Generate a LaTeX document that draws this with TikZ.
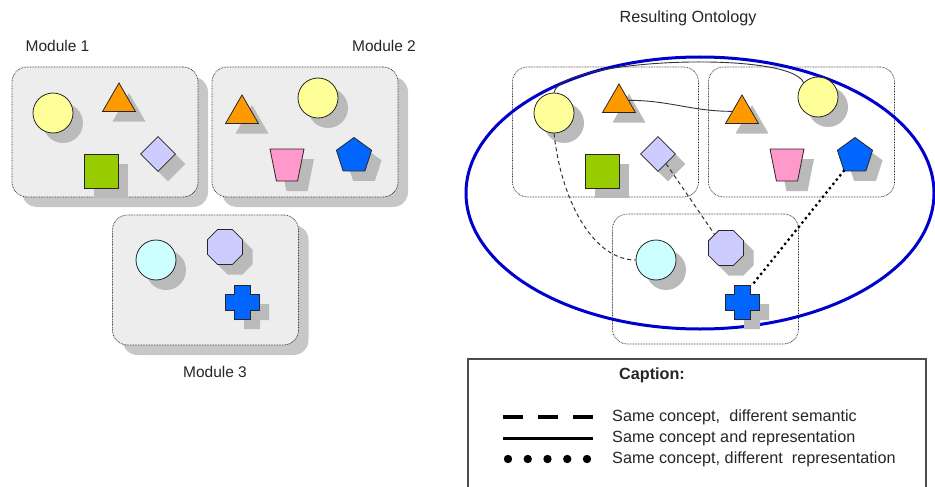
\documentclass[tikz,border=0pt]{standalone}
\usepackage{fontspec}
\setmainfont{Liberation Sans}
\usepackage{tikz}
\usetikzlibrary{shapes.geometric, shadows}

\definecolor{yellowc}{RGB}{255,255,153}
\definecolor{orangec}{RGB}{255,153,0}
\definecolor{greenc}{RGB}{153,204,0}
\definecolor{lilac}{RGB}{204,204,255}
\definecolor{pinkc}{RGB}{255,153,204}
\definecolor{bluec}{RGB}{0,102,255}
\definecolor{cyanc}{RGB}{204,255,255}
\definecolor{ringblue}{RGB}{0,0,204}

\begin{document}
\begin{tikzpicture}[
    x=1pt, y=-1pt,
    font=\fontsize{16.2}{19}\selectfont, text=black!85,
    modlabel/.style={font=\fontsize{15.5}{18}\selectfont},
    modbox/.style={draw=black!80, line width=0.7pt, dash pattern=on 0.8pt off 0.8pt, rounded corners=15pt, minimum width=186, minimum height=130},
    modgrey/.style={modbox, fill=black!7, drop shadow={shadow xshift=10pt, shadow yshift=-10pt, fill=black!22, opacity=1}},
    shp/.style={draw=black!85, line width=0.8pt, inner sep=0pt, drop shadow={shadow xshift=10pt, shadow yshift=-10pt, fill=black!27, opacity=1}},
    ball/.style={shp, circle, minimum size=40},
    tri/.style={shp, regular polygon, regular polygon sides=3, minimum size=38, fill=orangec},
    sq/.style={shp, rectangle, minimum size=34, fill=greenc},
    dia/.style={shp, diamond, minimum size=35, fill=lilac},
    trap/.style={shp, trapezium, trapezium stretches=true, inner sep=1pt, trapezium angle=73, minimum width=34, minimum height=32, shape border rotate=180, fill=pinkc},
    penta/.style={shp, regular polygon, regular polygon sides=5, minimum size=37, fill=bluec},
    octa/.style={shp, regular polygon, regular polygon sides=8, minimum size=38, fill=lilac},
    plusmark/.pic={
        \fill[black!27, shift={(10,10)}] (-8,-17) -| (8,-8) -| (17,8) -| (8,17) -| (-8,8) -| (-17,-8) -| (-8,-17) -- cycle;
        \filldraw[fill=bluec, draw=black!85, line width=0.8pt] (-8,-17) -| (8,-8) -| (17,8) -| (8,17) -| (-8,8) -| (-17,-8) -| (-8,-17) -- cycle;
        \node[minimum size=34, inner sep=0pt] (-c) {};
    },
    same/.style={black!80, line width=0.9pt},
    semdash/.style={black!80, line width=1pt, dash pattern=on 4pt off 3pt},
    repdot/.style={black, line width=3.2pt, line cap=round, dash pattern=on 0pt off 5.5pt},
    legtext/.style={anchor=west, inner sep=0pt}
]
\useasboundingbox (0,0) rectangle (935,487);

% modules
\node[modlabel] at (57.5,46) {Module 1};
\node[modlabel] at (384,46) {Module 2};
\node[modlabel] at (215,372) {Module 3};
\node[modgrey] (m1) at (105,132) {};
\node[modgrey] (m2) at (305,132) {};
\node[modgrey] (m3) at (205.5,280) {};

\node[ball, fill=yellowc] (c1) at (53,113) {};
\node[tri] (t1) at (119,102) {};
\node[sq] (s1) at (101,171) {};
\node[dia] (d1) at (158,154) {};
\node[tri] (t2) at (242,114) {};
\node[ball, fill=yellowc] (c2) at (318,98) {};
\node[trap] (z2) at (287,165) {};
\node[penta] (p2) at (354,156) {};
\node[ball, fill=cyanc] (c3) at (156,260) {};
\node[octa] (o3) at (225,247) {};
\pic (x3) at (242,302) {plusmark};

% resulting ontology
\node at (688,18) {Resulting Ontology};
\node[modbox] (ma) at (605.5,132) {};
\node[modbox] (mb) at (801.5,132) {};
\node[modbox] (mc) at (705.5,279) {};
\draw[ringblue, line width=3pt] (700,193) ellipse [x radius=234, y radius=136];

\node[ball, fill=yellowc] (ca) at (554,113) {};
\node[tri] (ta) at (619,103) {};
\node[sq] (sa) at (602,171) {};
\node[dia] (da) at (658,154) {};
\node[tri] (tb) at (742,114) {};
\node[ball, fill=yellowc] (cb) at (818,97) {};
\node[trap] (zb) at (787,165) {};
\node[penta] (pb) at (855,156) {};
\node[ball, fill=cyanc] (cc) at (656,260) {};
\node[octa] (oc) at (726,248) {};
\pic (xc) at (742,302) {plusmark};

\draw[same] (ca.north) .. controls (560,58) and (790,50) .. (cb.north west);
\draw[same] (ta.15) to[out=0, in=180] (tb.165);
\draw[semdash] (ca.south) .. controls (562,205) and (595,260) .. (cc.west);
\draw[semdash] (da.-50) -- (oc.130);
\draw[repdot] (pb.233) -- (xc-c.59);

% caption
\draw[black!70, line width=1.2pt] (468,487) |- (926,359) -- (926,487);
\node[font=\fontsize{16.2}{19}\selectfont\bfseries] (cap) at (652,375) {Caption:};
\node[legtext] (lg1) at (612,417) {Same concept,~ different semantic};
\node[legtext] (lg2) at (612,438) {Same concept and representation};
\node[legtext] (lg3) at (612,459) {Same concept, different~ representation};
\draw[black, line width=4pt, dash pattern=on 20pt off 15pt] ([xshift=-109pt]lg1.west) -- ([xshift=-19pt]lg1.west);
\draw[black, line width=3pt] ([xshift=-109pt]lg2.west) -- ([xshift=-19pt]lg2.west);
\foreach \i in {0,...,4}
    \fill[black] ([xshift={-104pt+\i*19.75pt}]lg3.west) circle (4.2);
\end{tikzpicture}
\end{document}
